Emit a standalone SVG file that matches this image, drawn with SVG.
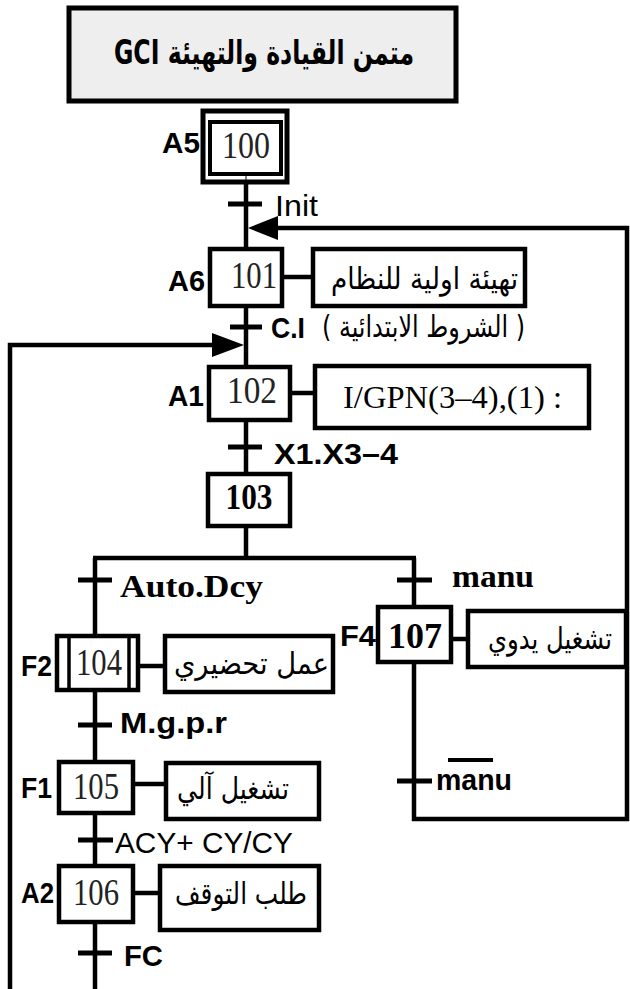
<svg xmlns="http://www.w3.org/2000/svg" width="630" height="989" viewBox="0 0 630 989">
<defs>
<style>
.box{fill:#fff;stroke:#000;stroke-width:4.5}
.ln{stroke:#000;stroke-width:4.5;fill:none}
.tk{stroke:#000;stroke-width:5}
.lbl{font-family:"Liberation Sans",Arial,sans-serif;font-weight:bold;font-size:30px;fill:#000}
.num{font-family:"Liberation Serif","Times New Roman",serif;font-size:38px;fill:#222}
.numb{font-family:"Liberation Serif","Times New Roman",serif;font-size:36px;font-weight:bold;fill:#000}
.ar{font-family:"DejaVu Sans",sans-serif;font-size:30px;fill:#000}
.cond{font-family:"Liberation Sans",Arial,sans-serif;font-size:30px;fill:#000}
.ser{font-family:"Liberation Serif","Times New Roman",serif;font-size:32px;fill:#000}
</style>
</defs>
<rect width="630" height="989" fill="#fff"/>

<g id="title">
<rect x="69" y="8" width="387" height="93" fill="#eeeeee" stroke="#000" stroke-width="5"/>
<text x="264" y="64" text-anchor="middle" font-family="'DejaVu Sans','Liberation Sans',sans-serif" font-weight="bold" font-size="33" textLength="300" lengthAdjust="spacingAndGlyphs">GCI متمن القيادة والتهيئة</text>
</g>

<g id="connectors">
<line class="ln" x1="246" y1="183" x2="246" y2="249"/>
<line class="ln" x1="246" y1="306" x2="246" y2="367"/>
<line class="ln" x1="246" y1="420" x2="246" y2="474"/>
<line class="ln" x1="246" y1="526" x2="246" y2="558"/>
<line class="ln" x1="93" y1="558" x2="416" y2="558"/>
<line class="ln" x1="95" y1="558" x2="95" y2="636"/>
<line class="ln" x1="95" y1="690" x2="95" y2="762"/>
<line class="ln" x1="95" y1="813" x2="95" y2="866"/>
<line class="ln" x1="95" y1="922" x2="95" y2="989"/>
<line class="ln" x1="414" y1="558" x2="414" y2="607"/>
<polyline class="ln" points="414,662 414,819 627,819 627,228 277,228"/>
<polygon points="248,228 278,216 278,240" fill="#000"/>
<polyline class="ln" points="10,989 10,345 214,345"/>
<polygon points="244,345 212,333 212,357" fill="#000"/>
<line class="ln" x1="282" y1="277" x2="313" y2="277"/>
<line class="ln" x1="290" y1="393" x2="315" y2="393"/>
<line class="ln" x1="138" y1="666" x2="165" y2="666"/>
<line class="ln" x1="133" y1="784" x2="166" y2="784"/>
<line class="ln" x1="133" y1="893" x2="160" y2="893"/>
<line class="ln" x1="451" y1="639" x2="468" y2="639"/>
<line class="tk" x1="228" y1="204" x2="262" y2="204"/>
<line class="tk" x1="230" y1="327" x2="262" y2="327"/>
<line class="tk" x1="228" y1="447" x2="262" y2="447"/>
<line class="tk" x1="78" y1="580" x2="112" y2="580"/>
<line class="tk" x1="397" y1="580" x2="432" y2="580"/>
<line class="tk" x1="78" y1="725" x2="112" y2="725"/>
<line class="tk" x1="397" y1="781" x2="432" y2="781"/>
<line class="tk" x1="78" y1="840" x2="113" y2="840"/>
<line class="tk" x1="78" y1="953" x2="112" y2="953"/>
</g>

<g id="transition-labels">
<text class="cond" x="275" y="216" font-size="32" textLength="43" lengthAdjust="spacingAndGlyphs">Init</text>
<text class="lbl" x="271" y="338" font-size="29" textLength="34" lengthAdjust="spacingAndGlyphs">C.I</text>
<text class="ar" x="322" y="337" font-size="28" textLength="203" lengthAdjust="spacingAndGlyphs">( الشروط الابتدائية )</text>
<text class="lbl" x="274" y="464" font-size="29" textLength="124" lengthAdjust="spacingAndGlyphs">X1.X3–4</text>
<text class="ser" x="120" y="597" font-size="34" font-weight="bold" textLength="143" lengthAdjust="spacingAndGlyphs">Auto.Dcy</text>
<text class="ser" x="452" y="587" font-size="34" font-weight="bold" textLength="82" lengthAdjust="spacingAndGlyphs">manu</text>
<text class="lbl" x="120" y="733" font-size="28" textLength="107" lengthAdjust="spacingAndGlyphs">M.g.p.r</text>
<text class="lbl" x="436" y="790" font-size="31" textLength="76" lengthAdjust="spacingAndGlyphs">manu</text>
<line x1="448" y1="760" x2="493" y2="760" stroke="#000" stroke-width="4"/>
<text class="cond" x="115" y="853" font-size="35" textLength="178" lengthAdjust="spacingAndGlyphs">ACY+ CY/CY</text>
<text class="lbl" x="124" y="966" font-size="31" textLength="39" lengthAdjust="spacingAndGlyphs">FC</text>
</g>

<g id="step100">
<rect x="203" y="111" width="84" height="71" fill="#fff" stroke="#000" stroke-width="5"/>
<rect x="210" y="122" width="71" height="52" fill="#fff" stroke="#000" stroke-width="4"/>
<line x1="246" y1="172" x2="246" y2="183" stroke="#000" stroke-width="1"/>
<text class="num" x="246" y="158" text-anchor="middle" textLength="48" lengthAdjust="spacingAndGlyphs">100</text>
<text class="lbl" x="162" y="153" textLength="38" lengthAdjust="spacingAndGlyphs">A5</text>
</g>

<g id="step101">
<rect class="box" x="210" y="249" width="72" height="57"/>
<text class="num" x="254" y="288" text-anchor="middle" textLength="46" lengthAdjust="spacingAndGlyphs">101</text>
<text class="lbl" x="168" y="291" textLength="37" lengthAdjust="spacingAndGlyphs">A6</text>
</g>
<g id="action101">
<rect class="box" x="313" y="249" width="212" height="57"/>
<text class="ar" x="331" y="289" textLength="187" lengthAdjust="spacingAndGlyphs">تهيئة اولية للنظام</text>
</g>

<g id="step102">
<rect class="box" x="209" y="367" width="81" height="53"/>
<text class="num" x="252" y="403" text-anchor="middle" textLength="50" lengthAdjust="spacingAndGlyphs">102</text>
<text class="lbl" x="168" y="406" textLength="36" lengthAdjust="spacingAndGlyphs">A1</text>
</g>
<g id="action102">
<rect class="box" x="315" y="366" width="274" height="62"/>
<text class="ser" x="343" y="408" font-size="33" textLength="219" lengthAdjust="spacingAndGlyphs">I/GPN(3–4),(1) :</text>
</g>

<g id="step103">
<rect class="box" x="208" y="474" width="82" height="52"/>
<text class="numb" x="249" y="509" text-anchor="middle" textLength="47" lengthAdjust="spacingAndGlyphs">103</text>
</g>

<g id="step104">
<rect class="box" x="57" y="636" width="81" height="54"/>
<line x1="69" y1="636" x2="69" y2="692" stroke="#000" stroke-width="3.5"/>
<line x1="129" y1="636" x2="129" y2="690" stroke="#000" stroke-width="3.5"/>
<text class="num" x="99" y="675" text-anchor="middle" textLength="46" lengthAdjust="spacingAndGlyphs">104</text>
<text class="lbl" x="21" y="676" textLength="31" lengthAdjust="spacingAndGlyphs">F2</text>
</g>
<g id="action104">
<rect class="box" x="165" y="636" width="168" height="56"/>
<text class="ar" x="174" y="674" textLength="155" lengthAdjust="spacingAndGlyphs">عمل تحضيري</text>
</g>

<g id="step105">
<rect class="box" x="59" y="762" width="74" height="51"/>
<text class="num" x="96" y="799" text-anchor="middle" textLength="46" lengthAdjust="spacingAndGlyphs">105</text>
<text class="lbl" x="21" y="798" textLength="31" lengthAdjust="spacingAndGlyphs">F1</text>
</g>
<g id="action105">
<rect class="box" x="166" y="763" width="153" height="56"/>
<text class="ar" x="177" y="799" textLength="112" lengthAdjust="spacingAndGlyphs">تشغيل آلي</text>
</g>

<g id="step106">
<rect class="box" x="59" y="866" width="74" height="56"/>
<text class="num" x="96" y="905" text-anchor="middle" textLength="46" lengthAdjust="spacingAndGlyphs">106</text>
<text class="lbl" x="21" y="903" textLength="33" lengthAdjust="spacingAndGlyphs">A2</text>
</g>
<g id="action106">
<rect class="box" x="160" y="866" width="159" height="64"/>
<text class="ar" x="175" y="904" textLength="132" lengthAdjust="spacingAndGlyphs">طلب التوقف</text>
</g>

<g id="step107">
<rect class="box" x="378" y="607" width="73" height="55"/>
<text class="numb" x="415" y="648" text-anchor="middle" font-size="40" textLength="54" lengthAdjust="spacingAndGlyphs">107</text>
<text class="lbl" x="340" y="646" font-size="31" textLength="36" lengthAdjust="spacingAndGlyphs">F4</text>
</g>
<g id="action107">
<rect class="box" x="468" y="611" width="158" height="56"/>
<text class="ar" x="550" y="649" font-size="26" text-anchor="middle" textLength="124" lengthAdjust="spacingAndGlyphs">تشغيل يدوي</text>
</g>
</svg>
